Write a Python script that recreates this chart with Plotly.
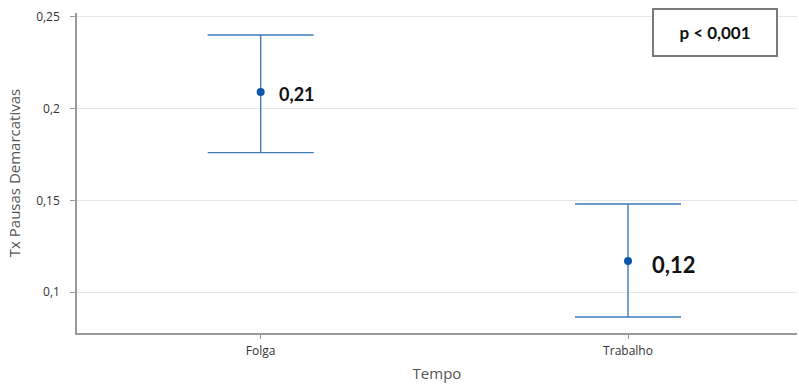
import plotly.graph_objects as go

# Mean demarcative-pause rate per period, with interval bounds
categories = ["Folga", "Trabalho"]
means = [0.209, 0.117]
upper = [0.240, 0.148]
lower = [0.176, 0.0865]
p_text = "p < 0,001"

err_plus = [u - m for u, m in zip(upper, means)]
err_minus = [m - l for m, l in zip(means, lower)]
positions = list(range(len(categories)))

fig = go.Figure()
fig.add_trace(go.Scatter(
    x=positions,
    y=means,
    mode="markers",
    marker=dict(color="#0b56a8", size=8),
    error_y=dict(
        type="data",
        symmetric=False,
        array=err_plus,
        arrayminus=err_minus,
        color="#3f7bbd",
        thickness=1.4,
        width=53,
    ),
    showlegend=False,
    hoverinfo="skip",
))

# Value labels next to each mean
label_style = [(18, 16, -2), (22, 22, -4)]  # font size, x offset, y offset
for pos, m, (s, dx, dy) in zip(positions, means, label_style):
    fig.add_annotation(
        x=pos, y=m, xref="x", yref="y",
        text="<b>" + f"{m:.2f}".replace(".", ",") + "</b>",
        showarrow=False, xanchor="left", xshift=dx, yshift=dy,
        font=dict(family="Lato, Open Sans, sans-serif", size=s, color="#111111"),
    )

# Significance box
fig.add_annotation(
    x=0.886, y=0.939, xref="paper", yref="paper",
    text="<b>" + p_text + "</b>", showarrow=False,
    xanchor="center", yanchor="middle",
    font=dict(family="Lato, Open Sans, sans-serif", size=17, color="#111111"),
    bordercolor="#7a7a7a", borderwidth=2, borderpad=0,
    bgcolor="white", width=122, height=45,
)

fig.update_layout(
    width=799, height=386,
    margin=dict(l=77, r=2, t=13, b=53),
    paper_bgcolor="white", plot_bgcolor="white",
    separators=",.",
    font=dict(family="Open Sans, sans-serif", color="#444444"),
    xaxis=dict(
        tickmode="array", tickvals=positions, ticktext=categories,
        range=[-0.5, 1.46],
        showgrid=False, zeroline=False,
        showline=True, linecolor="#999999", linewidth=1.5,
        ticks="outside", ticklen=4, tickcolor="#999999",
        tickfont=dict(size=12, color="#333333"),
        ticklabelstandoff=2,
        title=dict(text="Tempo", font=dict(size=15, color="#555555"), standoff=10),
    ),
    yaxis=dict(
        range=[0.0778, 0.252],
        tickvals=[0.1, 0.15, 0.2, 0.25],
        showgrid=True, gridcolor="#e6e6e6", gridwidth=1,
        zeroline=False,
        showline=True, linecolor="#999999", linewidth=1.5,
        ticks="outside", ticklen=5, tickcolor="#999999",
        tickfont=dict(size=12, color="#333333"),
        ticklabelstandoff=8,
        title=dict(text="Tx Pausas Demarcativas", font=dict(size=15, color="#555555"), standoff=12),
    ),
)

fig.write_html("out.html")
